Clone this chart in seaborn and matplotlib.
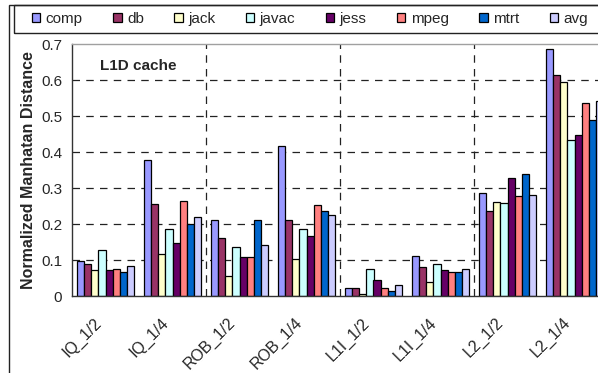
import matplotlib
matplotlib.use("Agg")
import matplotlib.pyplot as plt
from matplotlib.patches import Rectangle, Patch
from matplotlib.transforms import ScaledTranslation
import seaborn as sns
import pandas as pd

configs = ["IQ_1/2", "IQ_1/4", "ROB_1/2", "ROB_1/4", "L1I_1/2", "L1I_1/4", "L2_1/2", "L2_1/4"]
benches = ["comp", "db", "jack", "javac", "jess", "mpeg", "mtrt", "avg"]
colors = ["#9999FF", "#993366", "#FFFFCC", "#CCFFFF", "#660066", "#FF8080", "#0066CC", "#CCCCFF"]

comp  = [0.096, 0.377, 0.212, 0.418, 0.022, 0.112, 0.286, 0.686]
db    = [0.088, 0.256, 0.162, 0.212, 0.022, 0.080, 0.237, 0.613]
jack  = [0.072, 0.117, 0.055, 0.104, 0.006, 0.039, 0.262, 0.595]
javac = [0.129, 0.187, 0.137, 0.187, 0.075, 0.088, 0.257, 0.434]
jess  = [0.072, 0.146, 0.108, 0.166, 0.044, 0.072, 0.328, 0.446]
mpeg  = [0.075, 0.265, 0.108, 0.253, 0.022, 0.068, 0.278, 0.537]
mtrt  = [0.067, 0.200, 0.212, 0.237, 0.014, 0.068, 0.340, 0.488]
avg   = [0.083, 0.220, 0.141, 0.225, 0.030, 0.075, 0.281, 0.541]

series = [comp, db, jack, javac, jess, mpeg, mtrt, avg]
rows = []
for b, vals in zip(benches, series):
    for c, v in zip(configs, vals):
        rows.append({"config": c, "bench": b, "value": v})
df = pd.DataFrame(rows)

sns.set_style("white")
plt.rcParams["font.family"] = ["Liberation Sans", "DejaVu Sans"]

W, H = 598, 373
fig = plt.figure(figsize=(W / 100, H / 100), dpi=100)
ax = fig.add_axes([72 / W, 1 - 296 / H, (608 - 72) / W, (296 - 44) / H])

sns.barplot(data=df, x="config", y="value", hue="bench", order=configs,
            hue_order=benches, palette=colors, width=0.85, edgecolor="black",
            linewidth=0.9, ax=ax, legend=False, saturation=1)

ax.set_xlim(-0.5, 7.5)
ax.set_ylim(0, 0.7)
ax.set_yticks([0, 0.1, 0.2, 0.3, 0.4, 0.5, 0.6, 0.7])
ax.set_yticklabels(["0", "0.1", "0.2", "0.3", "0.4", "0.5", "0.6", "0.7"], fontsize=11)
ax.tick_params(axis="y", direction="inout", length=8, width=0.9, color="#333333", pad=3)
ax.set_xticks(range(len(configs)))
ax.set_xticklabels(configs, rotation=45, ha="right", rotation_mode="anchor", fontsize=11.5)
ax.tick_params(axis="x", which="major", length=0, pad=8)
offset = ScaledTranslation(-12 / 100, -8 / 100, fig.dpi_scale_trans)
for lab in ax.get_xticklabels():
    lab.set_transform(lab.get_transform() + offset)
ax.set_xticks([-0.5, 1.5, 3.5, 5.5], minor=True)
ax.tick_params(axis="x", which="minor", direction="inout", length=8, width=0.9, color="#333333")
ax.set_xlabel("")
ax.set_ylabel("Normalized Manhatan Distance", fontsize=11.5, fontweight="bold", labelpad=4)

for yv in [0.1, 0.2, 0.3, 0.4, 0.5, 0.6]:
    ax.axhline(yv, color="#222222", lw=0.9, ls=(0, (6, 5)), zorder=0)
for xv in [1.5, 3.5, 5.5]:
    ax.axvline(xv, color="#222222", lw=0.9, ls=(0, (6, 5)), zorder=0)

for s in ["left", "bottom"]:
    ax.spines[s].set_color("#333333")
    ax.spines[s].set_linewidth(1.0)
ax.spines["top"].set_color("#a0a0a0")
ax.spines["top"].set_linewidth(1.0)
ax.spines["right"].set_visible(False)

ax.text(-0.08, 0.638, "L1D cache", fontsize=11, fontweight="bold", ha="left", va="center")

# outer frame
fig.patches.append(Rectangle((9 / W, -0.1), 2, 1 - 5 / H + 0.1, transform=fig.transFigure,
                             fill=False, ec="#222222", lw=1.0))
# legend box
fig.patches.append(Rectangle((14 / W, 1 - 33 / H), 2, 28 / H, transform=fig.transFigure,
                             fill=False, ec="#222222", lw=1.0))

handles = [Patch(facecolor=c, edgecolor="black", lw=0.9) for c in colors]
fig.legend(handles, benches, loc="center left", bbox_to_anchor=(32 / W, 1 - 19 / H),
           ncol=8, frameon=False, fontsize=11, handlelength=0.55, handleheight=0.55,
           handletextpad=0.35, columnspacing=2.0, borderpad=0, borderaxespad=0)

fig.savefig("out.png", dpi=100)
